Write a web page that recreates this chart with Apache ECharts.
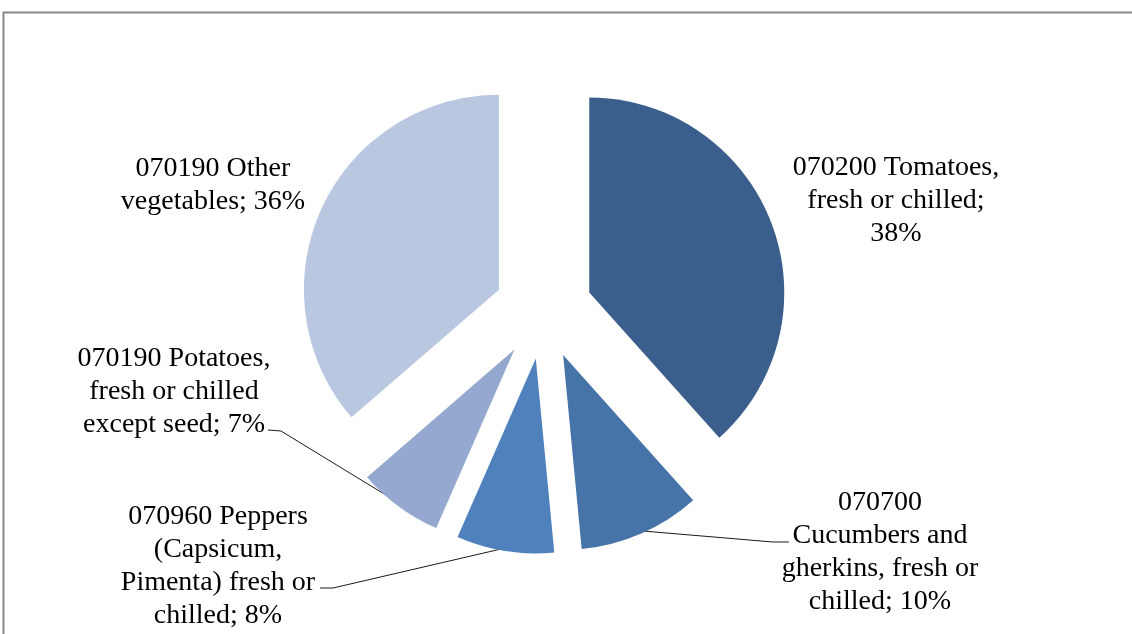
<!DOCTYPE html>
<html>
<head>
<meta charset="utf-8">
<title>Vegetable exports by HS code</title>
<script src="https://cdn.jsdelivr.net/npm/echarts@6/dist/echarts.min.js"></script>
<style>
  html, body { margin: 0; padding: 0; background: #ffffff; }
  #chart { width: 1132px; height: 634px; }
</style>
</head>
<body>
<div id="chart"></div>
<script>
// Product groups (HS codes), clockwise from 12 o'clock
const categories = [
  '070200 Tomatoes,\nfresh or chilled',
  '070700\nCucumbers and\ngherkins, fresh or\nchilled',
  '070960 Peppers\n(Capsicum,\nPimenta) fresh or\nchilled',
  '070190 Potatoes,\nfresh or chilled\nexcept seed',
  '070190 Other\nvegetables'
];
// Share of total, percent
const shares = [38, 10, 8, 7, 36];

// Slice fills
const colors = ['#3b5f8d', '#4674a9', '#4f81bd', '#95a9d0', '#b9c7e1'];
// Where the value goes on its own line
const valueOnOwnLine = [true, false, false, false, false];
// Which labels use a leader line
const hasLeader = [false, true, true, true, false];
// Label block centres (px)
const labelCenters = [
  [896, 201],
  [880, 552],
  [218, 566],
  [174, 392],
  [213, 185]
];
// Leader line tails next to the text: [bend point, end at text]
const leaderTails = [
  null,
  [[773, 542], [789, 542]],
  [[333, 588], [320, 588]],
  [[281, 431], [268, 430]],
  null
];

const PIE_CENTER = [543.5, 310];
const PIE_RADIUS = 195;
const EXPLODE = 49;

const chart = echarts.init(document.getElementById('chart'), null, { renderer: 'canvas' });

const labelFont = {
  fontFamily: '"Liberation Serif", "Times New Roman", serif',
  fontSize: 28,
  lineHeight: 33,
  color: '#000000'
};

chart.setOption({
  animation: false,
  backgroundColor: '#ffffff',
  graphic: [{
    type: 'rect',
    shape: { x: 3.5, y: 12.5, width: 1300, height: 800 },
    style: { fill: null, stroke: '#898989', lineWidth: 2 },
    silent: true,
    z: 100
  }],
  series: [
    // Exploded slices
    {
      type: 'pie',
      center: PIE_CENTER,
      radius: [0, PIE_RADIUS],
      startAngle: 90,
      clockwise: true,
      selectedMode: 'multiple',
      selectedOffset: EXPLODE,
      silent: true,
      label: { show: false },
      labelLine: { show: false },
      itemStyle: { borderWidth: 0 },
      data: categories.map((name, i) => ({
        name: name,
        value: shares[i],
        selected: true,
        itemStyle: { color: colors[i] }
      }))
    },
    // Data labels and leader lines; the ring reaches the outer edge of the exploded slices
    {
      type: 'pie',
      center: PIE_CENTER,
      radius: [0, PIE_RADIUS + EXPLODE - 3],
      startAngle: 90,
      clockwise: true,
      silent: true,
      avoidLabelOverlap: false,
      itemStyle: { color: 'rgba(0,0,0,0)', borderWidth: 0 },
      data: categories.map((name, i) => ({
        name: name,
        value: shares[i],
        labelLine: { show: hasLeader[i] }
      })),
      label: Object.assign({
        show: true,
        position: 'outside',
        align: 'center',
        formatter: (p) => p.name + ';' + (valueOnOwnLine[p.dataIndex] ? '\n' : ' ') + p.value + '%'
      }, labelFont),
      labelLine: {
        show: true,
        length: 10,
        length2: 10,
        lineStyle: { color: '#1a1a1a', width: 1 }
      },
      labelLayout: (params) => {
        const i = params.dataIndex;
        const c = labelCenters[i];
        const out = { x: c[0], y: c[1], align: 'center', verticalAlign: 'middle' };
        if (hasLeader[i] && params.labelLinePoints) {
          const anchor = params.labelLinePoints[0];
          out.labelLinePoints = [anchor, leaderTails[i][0], leaderTails[i][1]];
        }
        return out;
      }
    }
  ]
});
</script>
</body>
</html>
